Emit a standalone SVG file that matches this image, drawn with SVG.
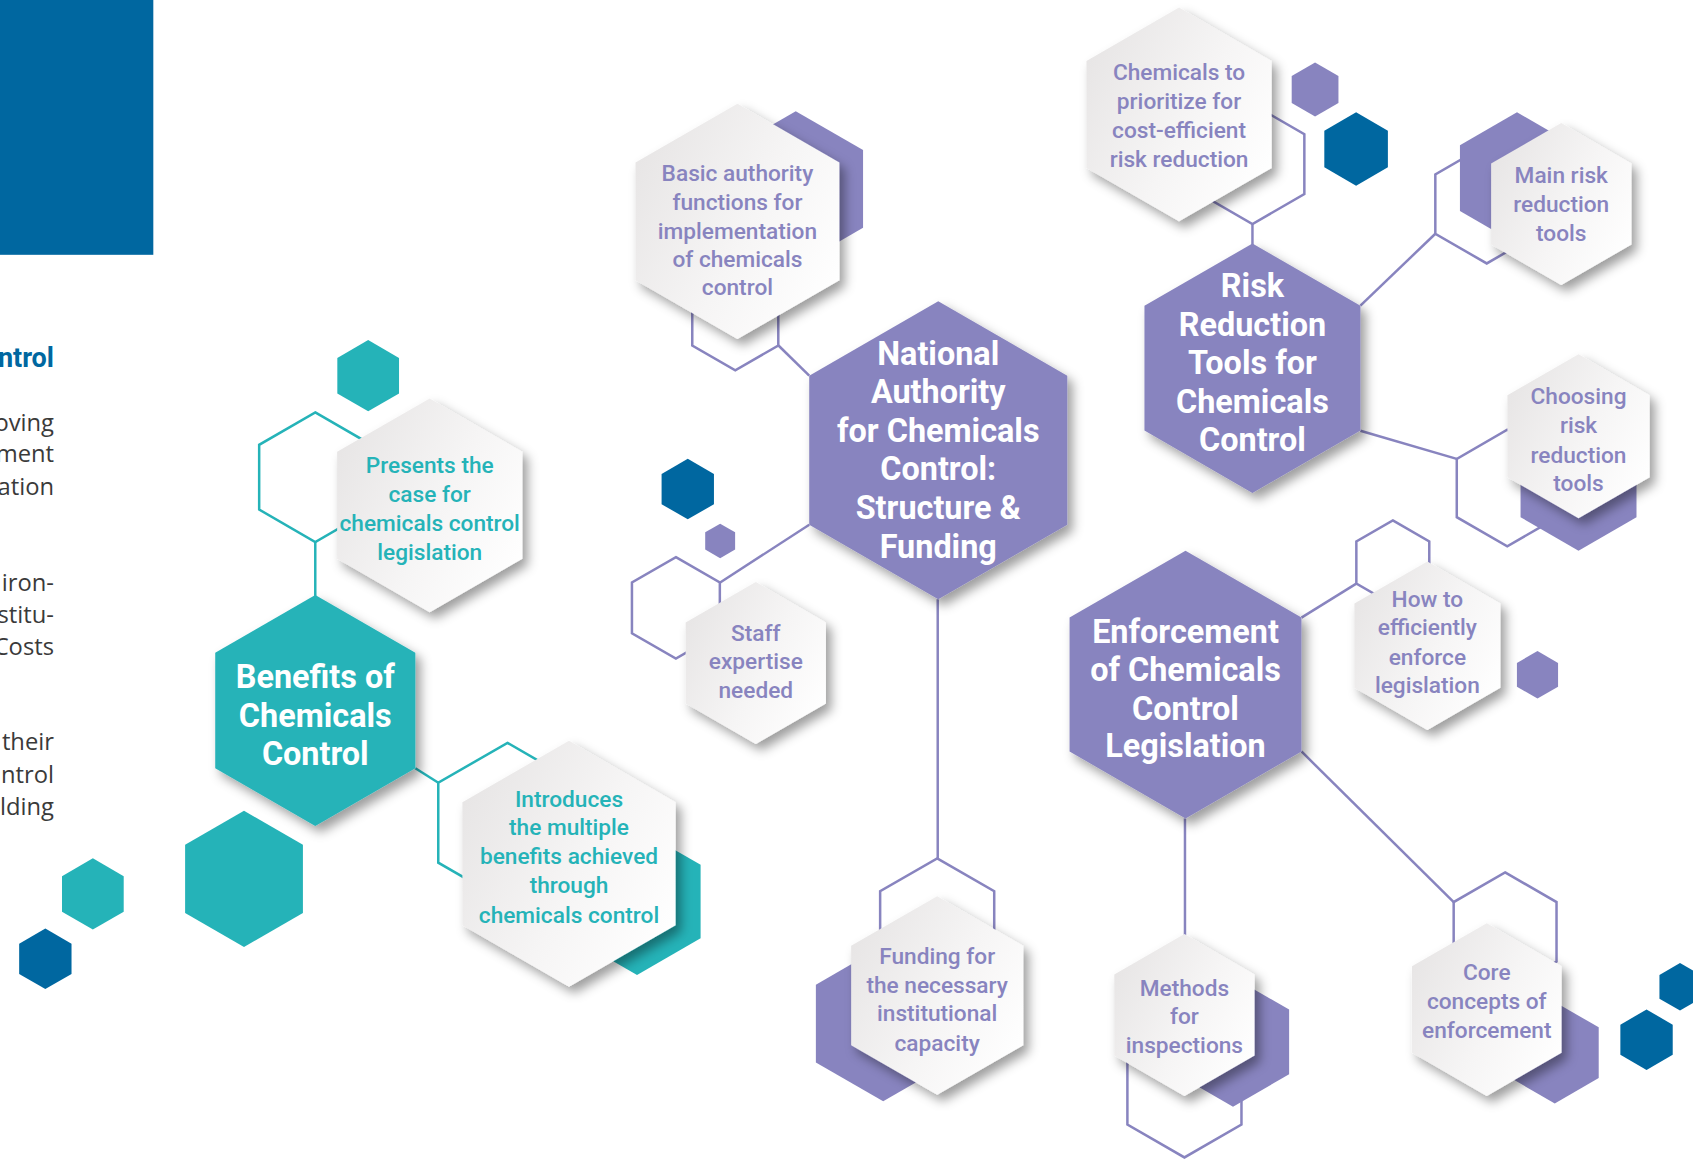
<svg xmlns="http://www.w3.org/2000/svg" width="1693" height="1159" viewBox="0 0 1693 1159">
<defs>
<style>
.t{fill:#25b3b8}.p{fill:#8884bf}.b{fill:#0067a0}
.olp{fill:none;stroke:#8884bf;stroke-width:2.5}
.olt{fill:none;stroke:#25b3b8;stroke-width:2.5}
.lp{stroke:#8884bf;stroke-width:2.3;fill:none}
.lt{stroke:#25b3b8;stroke-width:2.3;fill:none}
.w{fill:url(#wg)}
.st{font-family:Roboto,'Liberation Sans',sans-serif;font-weight:500;font-size:21px;text-anchor:middle}
.stp{fill:#8884bf}.stt{fill:#25b3b8}
.mt{font-family:Roboto,'Liberation Sans',sans-serif;font-weight:700;font-size:30px;fill:#ffffff;text-anchor:middle}
.side{font-family:'Open Sans','Liberation Sans',sans-serif;font-size:22px;fill:#3a3a3a;text-anchor:end}
.head{font-family:Roboto,'Liberation Sans',sans-serif;font-weight:700;font-size:25px;fill:#0067a0;text-anchor:end}
</style>
<path id="hx" d="M0,-1L0.866,-0.5L0.866,0.5L0,1L-0.866,0.5L-0.866,-0.5Z" vector-effect="non-scaling-stroke"/>
<linearGradient id="wg" x1="0" y1="0.2" x2="1" y2="0.8">
<stop offset="0" stop-color="#e7e5e5"/><stop offset="0.55" stop-color="#f6f5f5"/><stop offset="1" stop-color="#ffffff"/>
</linearGradient>
<filter id="sh" x="-20%" y="-20%" width="150%" height="150%">
<feDropShadow dx="5" dy="6" stdDeviation="5" flood-color="#000000" flood-opacity="0.38"/>
</filter>
</defs>
<rect width="1693" height="1159" fill="#ffffff"/>
<g transform="scale(1.0797)">
<g id="side-panel">
<rect x="0" y="0" width="142" height="236" class="b"/>
<text class="head" x="50" y="340">ntrol</text>
<text class="side" x="50" y="399">oving</text>
<text class="side" x="50" y="428">ment</text>
<text class="side" x="50" y="458">ation</text>
<text class="side" x="50" y="547">iron-</text>
<text class="side" x="50" y="577">stitu-</text>
<text class="side" x="50" y="607">Costs</text>
<text class="side" x="50" y="695">their</text>
<text class="side" x="50" y="725">ntrol</text>
<text class="side" x="50" y="755">lding</text>
</g>
<g id="connectors">
<use href="#hx" class="olt" transform="translate(292 442) scale(60)"/>
<use href="#hx" class="olt" transform="translate(470 762) scale(74)"/>
<use href="#hx" class="olp" transform="translate(681 297) scale(46)"/>
<use href="#hx" class="olp" transform="translate(626 563) scale(47)"/>
<use href="#hx" class="olp" transform="translate(868 856) scale(61)"/>
<use href="#hx" class="olp" transform="translate(1160 152) scale(55.5)"/>
<use href="#hx" class="olp" transform="translate(1377 189) scale(55)"/>
<use href="#hx" class="olp" transform="translate(1396 452) scale(54)"/>
<use href="#hx" class="olp" transform="translate(1290 521) scale(39)"/>
<use href="#hx" class="olp" transform="translate(1097 1011) scale(61)"/>
<use href="#hx" class="olp" transform="translate(1394 863) scale(55)"/>
<line class="lt" x1="292" y1="502" x2="292" y2="552"/>
<line class="lt" x1="384.7" y1="711.5" x2="406" y2="725"/>
<line class="lp" x1="721" y1="320" x2="749.5" y2="348"/>
<line class="lp" x1="667" y1="539.5" x2="749.5" y2="486"/>
<line class="lp" x1="868.5" y1="555" x2="868.5" y2="795"/>
<line class="lp" x1="1160" y1="207.5" x2="1160" y2="227"/>
<line class="lp" x1="1260" y1="283" x2="1329.4" y2="216.5"/>
<line class="lp" x1="1260" y1="399" x2="1349.2" y2="425"/>
<line class="lp" x1="1205.4" y1="572" x2="1256.2" y2="540.5"/>
<line class="lp" x1="1097.5" y1="758" x2="1097.5" y2="866"/>
<line class="lp" x1="1205.4" y1="696" x2="1346.4" y2="835.5"/>
</g>
<g id="accents">
<use href="#hx" class="t" transform="translate(341 348) scale(33)"/>
<use href="#hx" class="t" transform="translate(590 835) scale(68)"/>
<use href="#hx" class="t" transform="translate(226 814) scale(63)"/>
<use href="#hx" class="t" transform="translate(86 828) scale(33)"/>
<use href="#hx" class="b" transform="translate(42 888) scale(28)"/>
<use href="#hx" class="p" transform="translate(737 175) scale(72)"/>
<use href="#hx" class="b" transform="translate(637 453) scale(28)"/>
<use href="#hx" class="p" transform="translate(667 501) scale(16)"/>
<use href="#hx" class="p" transform="translate(818 948) scale(72)"/>
<use href="#hx" class="p" transform="translate(1218 83) scale(25)"/>
<use href="#hx" class="b" transform="translate(1256 138) scale(34)"/>
<use href="#hx" class="p" transform="translate(1405 165) scale(61)"/>
<use href="#hx" class="p" transform="translate(1462 448) scale(62)"/>
<use href="#hx" class="p" transform="translate(1424 625) scale(22)"/>
<use href="#hx" class="p" transform="translate(1142 965) scale(60)"/>
<use href="#hx" class="p" transform="translate(1440 975) scale(47)"/>
<use href="#hx" class="b" transform="translate(1525 963) scale(28)"/>
<use href="#hx" class="b" transform="translate(1556 914) scale(22)"/>
</g>
<g id="node-presents">
<g filter="url(#sh)"><use href="#hx" class="w" transform="translate(398 468) scale(99)"/></g>
<text class="st stt"><tspan x="398" y="438.5">Presents the</tspan><tspan x="398" y="464.5">case for</tspan><tspan x="398" y="491.5">chemicals control</tspan><tspan x="398" y="518.5">legislation</tspan></text>
</g>
<g id="node-introduces">
<g filter="url(#sh)"><use href="#hx" class="w" transform="translate(527 800) scale(114)"/></g>
<text class="st stt"><tspan x="527" y="747.5">Introduces</tspan><tspan x="527" y="773.5">the multiple</tspan><tspan x="527" y="800.5">benefits achieved</tspan><tspan x="527" y="827.5">through</tspan><tspan x="527" y="854.5">chemicals control</tspan></text>
</g>
<g id="node-basic">
<g filter="url(#sh)"><use href="#hx" class="w" transform="translate(683 205) scale(109)"/></g>
<text class="st stp"><tspan x="683" y="167.5">Basic authority</tspan><tspan x="683" y="194.5">functions for</tspan><tspan x="683" y="221.5">implementation</tspan><tspan x="683" y="247.5">of chemicals</tspan><tspan x="683" y="273.5">control</tspan></text>
</g>
<g id="node-staff">
<g filter="url(#sh)"><use href="#hx" class="w" transform="translate(700 614) scale(75)"/></g>
<text class="st stp"><tspan x="700" y="593.5">Staff</tspan><tspan x="700" y="619.5">expertise</tspan><tspan x="700" y="646.5">needed</tspan></text>
</g>
<g id="node-funding">
<g filter="url(#sh)"><use href="#hx" class="w" transform="translate(868 922) scale(92)"/></g>
<text class="st stp"><tspan x="868" y="892.5">Funding for</tspan><tspan x="868" y="919.5">the necessary</tspan><tspan x="868" y="945.5">institutional</tspan><tspan x="868" y="973.5">capacity</tspan></text>
</g>
<g id="node-prioritize">
<g filter="url(#sh)"><use href="#hx" class="w" transform="translate(1092 106) scale(99)"/></g>
<text class="st stp"><tspan x="1092" y="74.5">Chemicals to</tspan><tspan x="1092" y="100.5">prioritize for</tspan><tspan x="1092" y="127.5">cost-efficient</tspan><tspan x="1092" y="154.5">risk reduction</tspan></text>
</g>
<g id="node-main-tools">
<g filter="url(#sh)"><use href="#hx" class="w" transform="translate(1446 189) scale(75)"/></g>
<text class="st stp"><tspan x="1446" y="169.5">Main risk</tspan><tspan x="1446" y="196.5">reduction</tspan><tspan x="1446" y="223.5">tools</tspan></text>
</g>
<g id="node-choosing">
<g filter="url(#sh)"><use href="#hx" class="w" transform="translate(1462 404) scale(76)"/></g>
<text class="st stp"><tspan x="1462" y="374.5">Choosing</tspan><tspan x="1462" y="401.5">risk</tspan><tspan x="1462" y="428.5">reduction</tspan><tspan x="1462" y="454.5">tools</tspan></text>
</g>
<g id="node-howto">
<g filter="url(#sh)"><use href="#hx" class="w" transform="translate(1322 598) scale(78)"/></g>
<text class="st stp"><tspan x="1322" y="562.5">How to</tspan><tspan x="1322" y="588.5">efficiently</tspan><tspan x="1322" y="615.5">enforce</tspan><tspan x="1322" y="641.5">legislation</tspan></text>
</g>
<g id="node-methods">
<g filter="url(#sh)"><use href="#hx" class="w" transform="translate(1097 940) scale(75)"/></g>
<text class="st stp"><tspan x="1097" y="922.5">Methods</tspan><tspan x="1097" y="948.5">for</tspan><tspan x="1097" y="975.5">inspections</tspan></text>
</g>
<g id="node-core">
<g filter="url(#sh)"><use href="#hx" class="w" transform="translate(1377 935) scale(80)"/></g>
<text class="st stp"><tspan x="1377" y="907.5">Core</tspan><tspan x="1377" y="934.5">concepts of</tspan><tspan x="1377" y="961.5">enforcement</tspan></text>
</g>
<g id="node-benefits">
<g filter="url(#sh)"><use href="#hx" class="t" transform="translate(292 658) scale(107)"/></g>
<text class="mt"><tspan x="292" y="637.5">Benefits of</tspan><tspan x="292" y="673.5">Chemicals</tspan><tspan x="292" y="708.5">Control</tspan></text>
</g>
<g id="node-national">
<g filter="url(#sh)"><use href="#hx" class="p" transform="translate(869 417) scale(138)"/></g>
<text class="mt"><tspan x="869" y="338.5">National</tspan><tspan x="869" y="373.5">Authority</tspan><tspan x="869" y="409.5">for Chemicals</tspan><tspan x="869" y="444.5">Control:</tspan><tspan x="869" y="480.5">Structure &amp;</tspan><tspan x="869" y="516.5">Funding</tspan></text>
</g>
<g id="node-risk">
<g filter="url(#sh)"><use href="#hx" class="p" transform="translate(1160 341) scale(115.5)"/></g>
<text class="mt"><tspan x="1160" y="275.5">Risk</tspan><tspan x="1160" y="311.5">Reduction</tspan><tspan x="1160" y="346.5">Tools for</tspan><tspan x="1160" y="382.5">Chemicals</tspan><tspan x="1160" y="417.5">Control</tspan></text>
</g>
<g id="node-enforcement">
<g filter="url(#sh)"><use href="#hx" class="p" transform="translate(1098 634) scale(124)"/></g>
<text class="mt"><tspan x="1098" y="595.5">Enforcement</tspan><tspan x="1098" y="630.5">of Chemicals</tspan><tspan x="1098" y="666.5">Control</tspan><tspan x="1098" y="701.5">Legislation</tspan></text>
</g>
</g>
</svg>
